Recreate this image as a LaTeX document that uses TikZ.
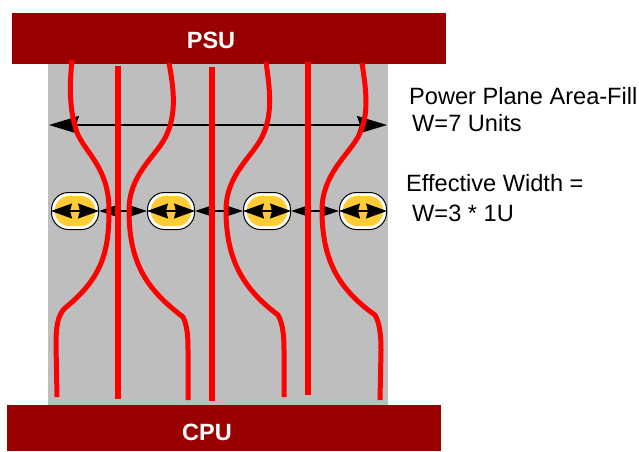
\documentclass[tikz,border=0pt]{standalone}
\usepackage{fontspec}
\setmainfont{Liberation Sans}
\usetikzlibrary{arrows.meta,shapes.geometric}
\definecolor{bar}{HTML}{990000}
\definecolor{plane}{HTML}{BEBEBE}
\definecolor{gold}{HTML}{FFCC33}
\tikzset{
 barbox/.style={rectangle,fill=bar,draw=none,minimum width=434pt,inner sep=0pt},
 bartext/.style={text=white,font=\fontsize{23.5}{28}\selectfont\bfseries,inner sep=0pt},
 track/.style={draw=red,line width=5pt,line join=round},
 straight/.style={draw=red,line width=6pt},
 oval/.style={rectangle,rounded corners=17pt,draw=black,fill=white,line width=1pt,minimum width=47pt,minimum height=37pt,inner sep=0pt},
 core/.style={rectangle,rounded corners=14pt,fill=gold,draw=none,minimum width=40pt,minimum height=30pt,inner sep=0pt},
 bigarrow/.style={line width=1.5pt,{Stealth[length=30pt,width=18pt,inset=3pt]}-{Stealth[length=30pt,width=18pt,inset=3pt]}},
 ovalarrow/.style={line width=1.5pt,{Stealth[length=21pt,width=15pt,inset=2pt]}-{Stealth[length=21pt,width=15pt,inset=2pt]}},
 gaparrow/.style={line width=1.5pt,{Stealth[length=17pt,width=11pt,inset=2pt]}-{Stealth[length=17pt,width=11pt,inset=2pt]}},
 txt/.style={font=\fontsize{23.6}{28}\selectfont,anchor=west,inner sep=0pt}
}
\begin{document}
\begin{tikzpicture}[x=1pt,y=-1pt]
\useasboundingbox (0,0) rectangle (639,451);
\fill[plane] (48,60) rectangle (388,408);
\node[barbox,minimum height=51pt] (psu) at (229,38.5) {};
\node[barbox,minimum height=46pt] (cpu) at (224,428) {};
\node[bartext] (psut) at (211,40) {PSU};
\node[bartext] (cput) at (207,432) {CPU};
\coordinate (la) at (49,125);
\coordinate (ra) at (387,125);
\draw[bigarrow] (la) -- (ra);
\foreach \n/\x in {a/75,b/171,c/267,d/363}{
 \node[oval] (o\n) at (\x,211) {};
 \node[core] (k\n) at (\x,211) {};
 \draw[ovalarrow] (o\n.west) -- (o\n.east);
}
\draw[gaparrow] (oa.east) -- (ob.west);
\draw[gaparrow] (ob.east) -- (oc.west);
\draw[gaparrow] (oc.east) -- (od.west);
\draw[track] (72,60) .. controls (70,80) and (68,110) .. (78,135) .. controls (88,155) and (109,170) .. (109,210) .. controls (109,252) and (102,278) .. (65,308) .. controls (58,315) and (56,325) .. (56,345) -- (57,397);
\draw[track] (169,63) .. controls (174,90) and (177,115) .. (165,138) .. controls (155,157) and (129,175) .. (129,210) .. controls (129,265) and (148,290) .. (183,317) .. controls (187,325) and (188,335) .. (188,350) -- (188,400);
\draw[track] (266,62) .. controls (270,90) and (273,115) .. (262,137) .. controls (252,157) and (226,175) .. (226,210) .. controls (226,262) and (245,290) .. (278,315) .. controls (282,322) and (284,332) .. (284,350) -- (284,397);
\draw[track] (362,63) .. controls (366,90) and (370,115) .. (358,137) .. controls (348,155) and (322,175) .. (322,210) .. controls (322,262) and (340,290) .. (375,315) .. controls (379,322) and (381,332) .. (381,350) -- (380,400);
\draw[straight] (118,66) -- (118,399);
\draw[straight] (212,67) -- (212,401);
\draw[straight] (308,62) -- (308,395);
\node[txt] (t1) at (409,96) {Power Plane Area-Fill};
\node[txt] (t2) at (412,123) {W=7 Units};
\node[txt] (t3) at (406,183) {Effective Width =};
\node[txt] (t4) at (412,213) {W=3 * 1U};
\end{tikzpicture}
\end{document}
